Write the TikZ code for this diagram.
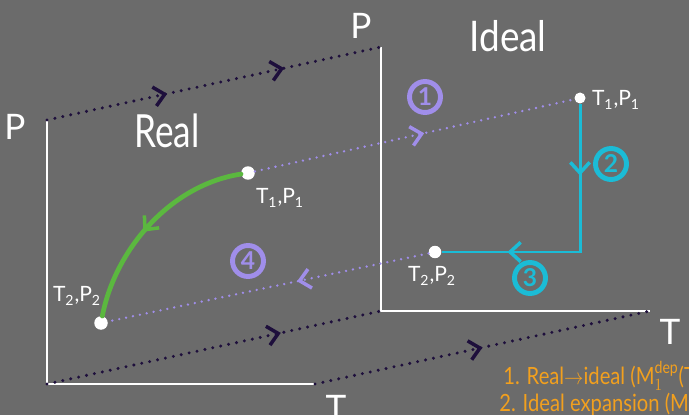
\documentclass[tikz,border=0pt]{standalone}
\usepackage{fontspec}
\usepackage{graphicx}
\setmainfont{Lato}
\usetikzlibrary{arrows.meta,decorations.markings}
\definecolor{board}{HTML}{6B6B6B}
\definecolor{dk}{HTML}{1E0F3C}
\definecolor{lav}{HTML}{A08EEA}
\definecolor{grn}{HTML}{5BB83F}
\definecolor{cyn}{HTML}{1BBCD6}
\definecolor{org}{HTML}{F2A01E}

\begin{document}
\begin{tikzpicture}[x=0.02cm, y=-0.02cm,
  axis/.style={draw=white, line width=1.7pt},
  link/.style={draw=dk, line width=1.9pt, dash pattern=on 0pt off 4.6pt, line cap=round},
  swap/.style={draw=lav, line width=1.5pt, dash pattern=on 0pt off 4pt, line cap=round},
  mk/.style={postaction={decorate, decoration={markings, mark=at position #1 with
      {\arrow{Straight Barb[length=6pt, width=11pt, line width=2pt]}}}}},
  dot/.style={circle, fill=white, inner sep=0pt, minimum size=#1},
  lbl/.style={text=white, inner sep=0pt, font=\fontsize{12}{14}\selectfont},
  big/.style={text=white, inner sep=0pt, font=\fontsize{20}{24}\selectfont},
  note/.style={text=org, anchor=west, inner sep=0pt, font=\fontsize{12.5}{14}\selectfont},
  num/.style={circle, draw=#1, text=#1, line width=2.8pt, inner sep=0pt, minimum size=6.2mm,
      font=\bfseries\fontsize{14}{16}\selectfont}]
\clip (0,0) rectangle (689,415);
\fill[board] (0,0) rectangle (689,415);

\coordinate (rP) at (47,120);
\coordinate (rO) at (47,384);
\coordinate (rT) at (315,384);
\coordinate (iP) at (381,47);
\coordinate (iO) at (381,311);
\coordinate (iT) at (650,311);
\coordinate (ic) at (580,252);

\node[big] (rPl) at (15,127) {P};
\node[big] (rTl) at (336,408) {T};
\node[big] (iPl) at (361,26) {P};
\node[big] (iTl) at (670,332) {T};
\node[big] (real) at (167,131) {\scalebox{1}[1.3]{Real}};
\node[big] (ideal) at (508,36) {\scalebox{1.05}[1.2]{Ideal}};

\node[dot=2.7mm] (r1) at (248,173) {};
\node[dot=2.7mm] (r2) at (101,323) {};
\node[dot=2.2mm] (i1) at (580,98) {};
\node[dot=2.5mm] (i2) at (435,252) {};

\node[lbl] (r1l) at (280,198) {T\textsubscript{1},P\textsubscript{1}};
\node[lbl] (r2l) at (77,296) {T\textsubscript{2},P\textsubscript{2}};
\node[lbl] (i1l) at (616,100) {T\textsubscript{1},P\textsubscript{1}};
\node[lbl] (i2l) at (432,276) {T\textsubscript{2},P\textsubscript{2}};

\node[num=lav] (n1) at (425,97) {1};
\node[num=cyn] (n2) at (611,164) {2};
\node[num=cyn] (n3) at (530,278) {3};
\node[num=lav] (n4) at (248,261) {4};

\draw[axis] (rP) -- (rO) -- (rT);
\draw[axis] (iP) -- (iO) -- (iT);
\draw[link, mk=0.36, mk=0.71] (rP) -- (iP);
\draw[link, mk=0.7] (rO) -- (iO);
\draw[link, mk=0.5] (rT) -- (iT);

\draw[swap, mk=0.53] (r1) -- (i1);
\draw[swap, mk=0.41] (i2) -- (r2);
\draw[draw=grn, line width=2.7pt, line cap=round, mk=0.55] (r1) .. controls (170,185) and (115,250) .. (r2);
\draw[draw=cyn, line width=1.7pt, mk=0.25, mk=0.77] (i1) -- (ic) -- (i2);

\node[note] (note1) at (503,376) {\scalebox{0.92}[1.08]{1. Real$\to$ideal (M$_1^{\mathrm{dep}}$(T}};
\node[note] (note2) at (499,404) {\scalebox{0.92}[1.08]{2. Ideal expansion (M}};
\end{tikzpicture}
\end{document}
